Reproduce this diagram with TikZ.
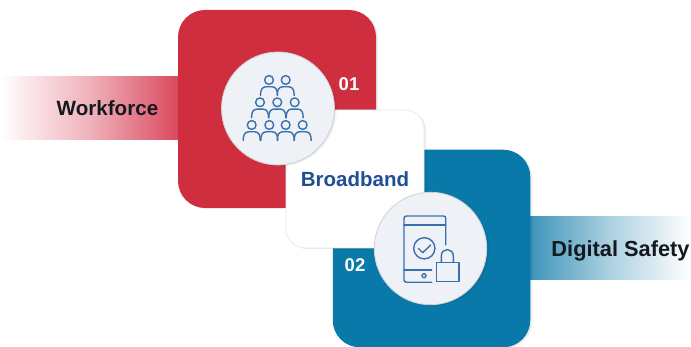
\documentclass[tikz,border=0pt]{standalone}
\usepackage{fontspec}
\setmainfont{Liberation Sans}
\definecolor{redbox}{HTML}{CF2E3E}
\definecolor{bluebox}{HTML}{0879A9}
\definecolor{redband}{HTML}{D9475C}
\definecolor{blueband}{HTML}{3A92B8}
\definecolor{disc}{HTML}{EEF1F5}
\definecolor{iconblue}{HTML}{3A6FAE}
\definecolor{titleblue}{HTML}{1F4E93}
\definecolor{labelink}{HTML}{14181F}
\tikzset{
  softshadow/.style={
    preaction={fill=black,fill opacity=.04,transform canvas={shift={(2.4pt,-1.2pt)}}},
    preaction={fill=black,fill opacity=.06,transform canvas={shift={(1.2pt,-.6pt)}}}},
  squarebox/.style={rectangle,minimum width=#1,minimum height=#1,inner sep=0pt,softshadow},
  discnode/.style={circle,minimum size=#1,inner sep=0pt,fill=disc,draw=black!18,line width=.8pt,softshadow},
  labeltext/.style={font=\bfseries\fontsize{20.6}{22}\selectfont,text=labelink,inner sep=0pt},
  numtext/.style={font=\bfseries\fontsize{18.5}{20}\selectfont,text=white,inner sep=0pt},
  iconline/.style={draw=iconblue,line width=1.4pt,line cap=round,line join=round},
  person/.pic={
    \draw[iconline] (0,0) circle (4.4);
    \draw[iconline] (-8.5,15.5) .. controls (-8.5,10) and (-7,6.8) .. (-3,6.8) -- (3,6.8) .. controls (7,6.8) and (8.5,10) .. (8.5,15.5);
  }
}
\begin{document}
\begin{tikzpicture}[x=1pt,y=-1pt]
\useasboundingbox (0,0) rectangle (691,347);
% gradient bands
\coordinate (bandLa) at (0,77);
\coordinate (bandLb) at (180,140);
\coordinate (bandRa) at (528,217);
\coordinate (bandRb) at (691,280);
\shade[left color=white,right color=redband,middle color=redband!42!white] (bandLa) rectangle (bandLb);
\shade[left color=blueband,right color=white,middle color=blueband!42!white] (bandRa) rectangle (bandRb);
% squares
\node[squarebox=198pt,fill=redbox,rounded corners=27pt] (redsquare) at (277,109) {};
\node[squarebox=197.5pt,fill=bluebox,rounded corners=27pt] (bluesquare) at (431.5,248.5) {};
\node[squarebox=138pt,fill=white,draw=black!9,line width=.7pt,rounded corners=19pt] (whitesquare) at (355,179) {};
% discs
\node[discnode=113pt] (discA) at (278,108.5) {};
\node[discnode=112.5pt] (discB) at (430.5,248.5) {};
% people icon
\foreach \px/\py in {269/80,285.7/80,260/102.3,277.3/102.3,294.7/102.3,251.7/125,269.3/125,285.7/125,302.7/125}
  \pic at (\px,\py) {person};
% device icon
\draw[iconline] (445.7,245) -- (445.7,218.5) .. controls (445.7,217) and (445,216) .. (443.5,216) -- (406.5,216) .. controls (405,216) and (404,217) .. (404,218.5) -- (404,280) .. controls (404,281.5) and (405,282.3) .. (406.5,282.3) -- (431.7,282.3);
\draw[iconline] (404,225) -- (445.7,225);
\draw[iconline] (404,270) -- (431.7,270);
\draw[iconline] (424,275.7) circle (2);
\draw[iconline] (424.3,248.3) circle (10.6);
\draw[iconline] (418.3,248.3) -- (422.7,252.7) -- (430.7,245);
\draw[iconline] (436.7,262.3) rectangle (459,281.7);
\draw[iconline] (441.3,262.3) -- (441.3,256) .. controls (441.3,247.5) and (453.3,247.5) .. (453.3,256) -- (453.3,262.3);
% text
\node[labeltext] (workforce) at (107.5,108.5) {Workforce};
\node[labeltext,font=\bfseries\fontsize{21.8}{23}\selectfont] (safety) at (620.5,250.5) {Digital Safety};
\node[labeltext,text=titleblue,font=\bfseries\fontsize{20.5}{22}\selectfont] (broadband) at (355,179.5) {Broadband};
\node[numtext] (numA) at (349,84.5) {01};
\node[numtext] (numB) at (355,265) {02};
\end{tikzpicture}
\end{document}
